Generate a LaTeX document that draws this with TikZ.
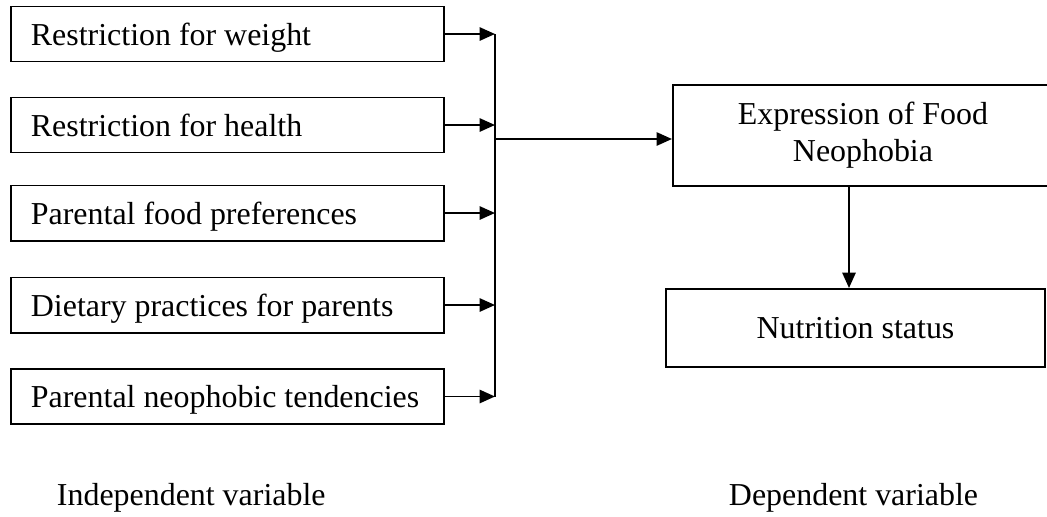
\documentclass[tikz,border=0pt]{standalone}
\usepackage{fontspec}
\setmainfont{Liberation Serif}
\usetikzlibrary{arrows.meta}

\begin{document}
\begin{tikzpicture}[x=0.025cm,y=-0.025cm,
    font=\fontsize{22.7}{26.2}\selectfont,
    every path/.style={line width=1.4pt},
    factor/.style={draw,minimum width=10.825cm,minimum height=1.375cm,
        text width=9.825cm,align=flush left,inner xsep=0.5cm,inner ysep=0pt,
        text height=0.55cm,text depth=0pt},
    outcome/.style={draw,align=center,inner sep=0pt},
    link/.style={-{Triangle[length=11pt,width=9.5pt]}}]
    \useasboundingbox (0,0) rectangle (1047,516);
    % Independent variables
    \node[factor] (weight) at (227.5,34) {Restriction for weight};
    \node[factor] (health) at (227.5,125) {Restriction for health};
    \node[factor] (prefs) at (227.5,213) {Parental food preferences};
    \node[factor] (diet) at (227.5,305) {Dietary practices for parents};
    \node[factor] (tend) at (227.5,396.5) {Parental neophobic tendencies};
    % Dependent variables
    \node[outcome,minimum width=9.5cm,minimum height=2.525cm] (neo) at (863,135.5)
        {Expression of Food\\Neophobia};
    \node[outcome,minimum width=9.475cm,minimum height=1.95cm] (nut) at (855.5,328)
        {Nutrition status};
    % Bus line and junctions
    \coordinate (bus) at (495,0);
    \coordinate (join) at (495,139);
    \coordinate (down) at (849,0);
    \foreach \f in {weight,health,prefs,diet,tend}
        \draw[link] (\f.east) -- (\f.east -| bus);
    \draw (weight.east -| bus) -- (tend.east -| bus);
    \draw[link] (join) -- (join -| neo.west);
    \draw[link] (neo.south -| down) -- (nut.north -| down);
    % Captions
    \node[anchor=base west,inner sep=0pt] (indep) at (56,505) {Independent variable};
    \node[anchor=base west,inner sep=0pt] (dep) at (728,505) {Dependent variable};
\end{tikzpicture}
\end{document}
